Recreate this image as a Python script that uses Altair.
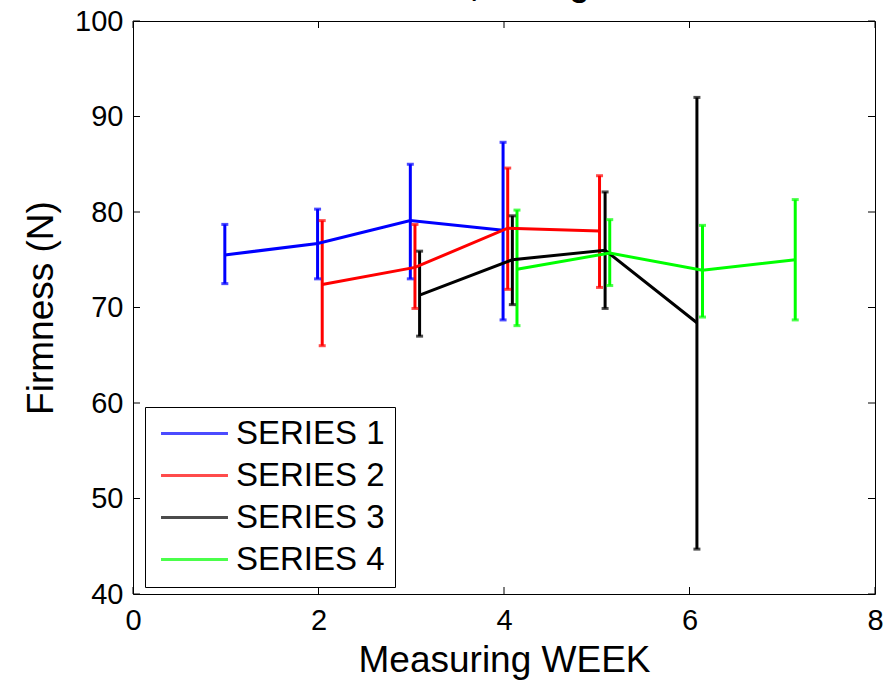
import altair as alt
import pandas as pd

series_names = ["SERIES 1", "SERIES 2", "SERIES 3", "SERIES 4"]
series_colors = ["#0000FF", "#FF0000", "#000000", "#00FF00"]

s1_x = [0.99, 1.99, 2.99, 3.99]
s1_mean = [75.5, 76.7, 79.1, 78.1]
s1_hi = [78.7, 80.3, 85.0, 87.3]
s1_lo = [72.5, 73.0, 73.0, 68.7]

s2_x = [2.04, 3.04, 4.04, 5.03]
s2_mean = [72.4, 74.2, 78.3, 78.0]
s2_hi = [79.1, 78.7, 84.6, 83.8]
s2_lo = [66.0, 69.9, 71.9, 72.1]

s3_x = [3.09, 4.09, 5.09, 6.08]
s3_mean = [71.3, 75.0, 76.0, 68.4]
s3_hi = [75.9, 79.6, 82.1, 92.0]
s3_lo = [67.0, 70.3, 69.9, 44.7]

s4_x = [4.14, 5.14, 6.14, 7.14]
s4_mean = [74.0, 75.7, 73.9, 75.0]
s4_hi = [80.2, 79.2, 78.6, 81.3]
s4_lo = [68.1, 72.3, 69.0, 68.7]

x_ticks = [0, 2, 4, 6, 8]
y_ticks = [40, 50, 60, 70, 80, 90, 100]

title_text = "Fruit Firmness, Storage Week"

rows = []
for name, xs, ms, his, los in [
    (series_names[0], s1_x, s1_mean, s1_hi, s1_lo),
    (series_names[1], s2_x, s2_mean, s2_hi, s2_lo),
    (series_names[2], s3_x, s3_mean, s3_hi, s3_lo),
    (series_names[3], s4_x, s4_mean, s4_hi, s4_lo),
]:
    for i in range(len(xs)):
        rows.append({"series": name, "order": i, "week": xs[i], "mean": ms[i], "hi": his[i], "lo": los[i]})
df = pd.DataFrame(rows)

W, H = 742, 573
FONT = "Liberation Sans"

xscale = alt.Scale(domain=[0, 8], nice=False, zero=False)
yscale = alt.Scale(domain=[40, 100], nice=False, zero=False)
cscale = alt.Scale(domain=series_names, range=series_colors)

x_enc = alt.X("week:Q", scale=xscale,
              axis=alt.Axis(values=x_ticks, title="Measuring WEEK", grid=False, ticks=False, domain=False,
                            labelFontSize=29, titleFontSize=37, labelPadding=12, titlePadding=7,
                            format="d", labelFlush=False))
y_enc_mean = alt.Y("mean:Q", scale=yscale,
                   axis=alt.Axis(values=y_ticks, title="Firmness (N)", grid=False, ticks=False, domain=False,
                                 labelFontSize=29, titleFontSize=37, labelPadding=10, titlePadding=14,
                                 labelFlush=False))

color_enc = alt.Color("series:N", scale=cscale, title=None,
                      legend=alt.Legend(orient="none", legendX=12, legendY=386, symbolType="M-3,0H3",
                                        symbolSize=498, symbolStrokeWidth=3, symbolOpacity=1,
                                        labelFontSize=33, rowPadding=8, padding=10,
                                        strokeColor="black", fillColor="white",
                                        labelOffset=25, symbolOffset=23))
color_plain = alt.Color("series:N", scale=cscale, title=None)

base = alt.Chart(df)

lines = base.mark_line(strokeWidth=3).encode(
    x=x_enc,
    y=y_enc_mean,
    color=color_enc,
    order="order:Q",
)

bars = base.mark_rule(strokeWidth=3).encode(
    x=alt.X("week:Q", scale=xscale),
    y=alt.Y("lo:Q", scale=yscale),
    y2="hi:Q",
    color=color_plain,
)

cap_hi = base.mark_tick(orient="horizontal", size=7, thickness=3).encode(
    x=alt.X("week:Q", scale=xscale),
    y=alt.Y("hi:Q", scale=yscale),
    color=color_plain,
)
cap_lo = base.mark_tick(orient="horizontal", size=7, thickness=3).encode(
    x=alt.X("week:Q", scale=xscale),
    y=alt.Y("lo:Q", scale=yscale),
    color=color_plain,
)

xt = pd.DataFrame({"t": x_ticks})
yt = pd.DataFrame({"t": y_ticks})
xtick_b = alt.Chart(xt).mark_rule(color="black", strokeWidth=1).encode(
    x=alt.X("t:Q", scale=xscale), y=alt.value(H), y2=alt.value(H - 7))
xtick_t = alt.Chart(xt).mark_rule(color="black", strokeWidth=1).encode(
    x=alt.X("t:Q", scale=xscale), y=alt.value(0), y2=alt.value(7))
ytick_l = alt.Chart(yt).mark_rule(color="black", strokeWidth=1).encode(
    y=alt.Y("t:Q", scale=yscale), x=alt.value(0), x2=alt.value(7))
ytick_r = alt.Chart(yt).mark_rule(color="black", strokeWidth=1).encode(
    y=alt.Y("t:Q", scale=yscale), x=alt.value(W), x2=alt.value(W - 7))

title = alt.Chart(pd.DataFrame({"t": [title_text]})).mark_text(
    font=FONT, fontSize=32, fontWeight="bold", align="left", baseline="alphabetic", color="black"
).encode(text="t:N", x=alt.value(115), y=alt.value(-25))

chart = alt.layer(
    xtick_b, xtick_t, ytick_l, ytick_r, bars, cap_hi, cap_lo, lines, title
).properties(
    width=W, height=H,
    autosize=alt.AutoSizeParams(type="none"),
    padding={"left": 133, "top": 21, "right": 16, "bottom": 86},
    background="white",
).configure(
    font=FONT,
).configure_view(
    stroke="black", strokeWidth=1
).configure_axis(
    labelColor="black", titleColor="black", titleFontWeight="normal", labelFont=FONT, titleFont=FONT
).configure_legend(
    labelFont=FONT, labelColor="black"
)

chart.save("out.html", embed_options={"renderer": "svg", "actions": False})
